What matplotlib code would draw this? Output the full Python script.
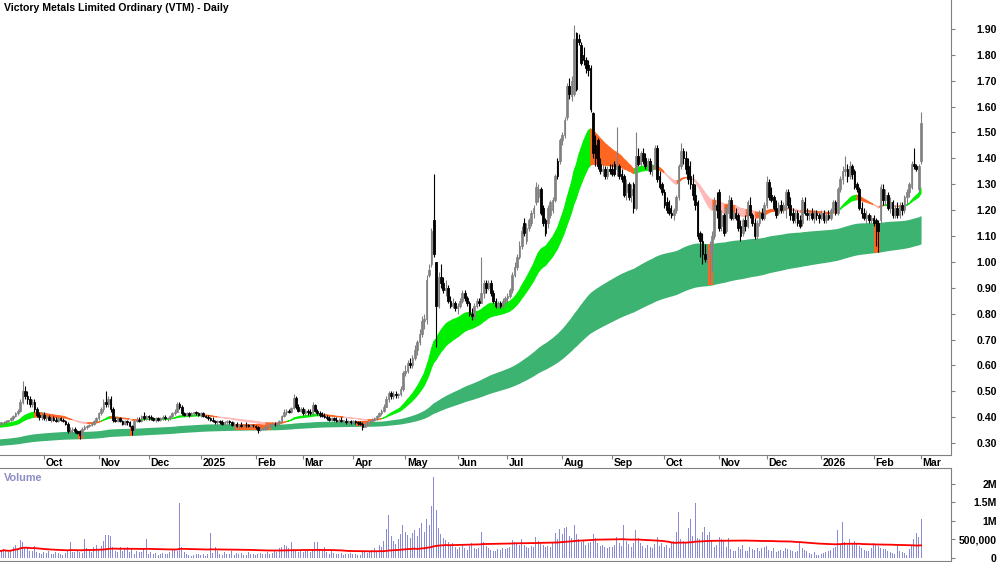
import numpy as np
import pandas as pd
import matplotlib
matplotlib.use("Agg")
import matplotlib.pyplot as plt
from matplotlib.transforms import blended_transform_factory

plt.rcParams["font.family"] = ["Liberation Sans", "DejaVu Sans"]

# daily candles (open, high, low, close)
sep24 = [(.37,.38,.365,.375),(.375,.38,.37,.38),(.38,.385,.375,.38),(.38,.39,.375,.385),(.385,.39,.38,.39),
         (.39,.40,.385,.395),(.395,.41,.39,.405),(.405,.42,.40,.415),(.415,.43,.41,.425),(.425,.47,.42,.46),
         (.46,.54,.45,.50),(.50,.52,.47,.48),(.48,.50,.45,.47),(.47,.48,.44,.45),(.45,.47,.44,.46),
         (.46,.47,.42,.43),(.43,.44,.40,.41),(.41,.42,.39,.40),(.40,.42,.39,.41)]
oct24 = [(.41,.42,.39,.395),(.395,.41,.385,.40),(.40,.41,.39,.39),(.39,.40,.38,.395),(.395,.405,.385,.39),
         (.39,.40,.38,.385),(.385,.40,.38,.395),(.395,.40,.385,.39),(.39,.395,.38,.385),(.385,.39,.37,.375),
         (.375,.38,.34,.345),(.345,.36,.34,.35),(.35,.36,.34,.355),(.355,.36,.34,.345),(.345,.35,.335,.34),
         (.345,.35,.315,.33),(.33,.36,.33,.355),(.355,.37,.35,.36),(.36,.37,.355,.365),(.365,.375,.36,.37),
         (.37,.38,.365,.375),(.375,.39,.37,.385),(.385,.40,.38,.395)]
nov24 = [(.395,.42,.39,.415),(.415,.44,.41,.43),(.43,.47,.42,.46),(.46,.50,.44,.45),(.45,.48,.44,.47),
         (.47,.48,.42,.43),(.43,.44,.38,.39),(.39,.40,.38,.385),(.385,.40,.38,.395),(.395,.40,.38,.385),
         (.385,.39,.37,.375),(.375,.39,.37,.385),(.385,.39,.37,.38),(.38,.385,.36,.365),(.365,.37,.33,.35),
         (.35,.39,.35,.385),(.385,.40,.38,.39),(.39,.40,.38,.385),(.385,.41,.38,.405),(.405,.42,.39,.395),
         (.395,.41,.39,.405)]
dec24 = [(.405,.41,.39,.40),(.40,.41,.39,.395),(.395,.40,.385,.39),(.39,.40,.38,.395),(.395,.40,.385,.39),
         (.39,.40,.385,.395),(.395,.41,.39,.40),(.40,.41,.39,.395),(.395,.40,.385,.395),(.395,.41,.39,.405),
         (.405,.42,.40,.415),(.415,.43,.41,.42),(.42,.46,.42,.45),(.45,.46,.43,.44),(.44,.445,.41,.415),
         (.415,.42,.405,.41),(.41,.42,.405,.415),(.415,.42,.40,.41),(.41,.42,.405,.415),(.415,.42,.41,.42),
         (.42,.425,.41,.415),(.415,.42,.405,.41)]
jan25 = [(.41,.42,.40,.415),(.415,.42,.40,.405),(.405,.41,.395,.40),(.40,.41,.39,.395),(.395,.40,.385,.39),
         (.39,.40,.38,.385),(.385,.39,.375,.38),(.38,.39,.37,.385),(.385,.39,.375,.38),(.38,.39,.37,.375),
         (.375,.385,.37,.38),(.38,.39,.375,.385),(.385,.39,.375,.38),(.38,.385,.365,.37),(.37,.38,.365,.375),
         (.375,.38,.36,.365),(.365,.375,.355,.37),(.37,.38,.36,.365),(.365,.375,.36,.37),(.37,.38,.36,.368),
         (.368,.375,.36,.365),(.365,.375,.36,.37),(.37,.375,.36,.368)]
feb25 = [(.365,.37,.355,.36),(.36,.365,.34,.35),(.35,.36,.345,.355),(.355,.36,.35,.355),(.355,.365,.35,.36),
         (.36,.37,.355,.365),(.365,.375,.36,.372),(.372,.38,.365,.375),(.375,.38,.365,.372),(.372,.38,.365,.378),
         (.378,.39,.37,.385),(.385,.41,.38,.405),(.405,.43,.40,.42),(.42,.43,.41,.425),(.425,.43,.415,.42),
         (.42,.44,.415,.435),(.435,.49,.43,.475),(.475,.48,.43,.44),(.44,.45,.42,.425),(.425,.44,.42,.43)]
mar25 = [(.43,.44,.41,.415),(.415,.43,.41,.425),(.425,.43,.41,.42),(.42,.43,.41,.415),(.415,.46,.41,.445),
         (.445,.45,.42,.425),(.425,.43,.41,.415),(.415,.425,.40,.41),(.41,.42,.40,.405),(.405,.415,.395,.40),
         (.40,.41,.39,.395),(.395,.405,.385,.39),(.39,.40,.385,.395),(.395,.40,.385,.39),(.39,.40,.38,.385),
         (.385,.395,.38,.39),(.39,.40,.38,.385),(.385,.39,.38,.385),(.385,.395,.375,.38),(.38,.39,.375,.385),
         (.385,.39,.375,.38)]
apr25 = [(.38,.39,.375,.385),(.385,.39,.375,.38),(.38,.385,.37,.378),(.378,.385,.37,.375),(.375,.38,.35,.36),
         (.36,.375,.36,.372),(.372,.385,.365,.38),(.38,.39,.375,.385),(.385,.395,.38,.39),(.39,.40,.385,.395),
         (.395,.41,.39,.405),(.405,.42,.40,.415),(.415,.43,.41,.425),(.425,.45,.42,.44),(.44,.48,.44,.47),
         (.47,.50,.46,.495),(.495,.50,.47,.48),(.48,.50,.47,.49),(.49,.50,.475,.485),(.485,.495,.475,.49),
         (.49,.52,.48,.51),(.51,.58,.50,.57)]
may25 = [(.57,.60,.56,.58),(.58,.62,.57,.61),(.61,.63,.59,.60),(.60,.64,.59,.63),(.63,.68,.62,.66),
         (.66,.70,.64,.69),(.69,.74,.68,.72),(.72,.79,.71,.77),(.77,.80,.74,.78),(.78,.95,.76,.93),
         (.95,.99,.94,.97),(.99,1.13,.98,1.12),(1.16,1.34,1.02,1.03),(1.00,1.00,.67,.83),(.83,.96,.82,.94),
         (.94,.99,.90,.92),(.92,.94,.88,.89),(.89,.93,.87,.90),(.90,.91,.84,.85),(.85,.87,.82,.83),
         (.83,.86,.82,.84),(.84,.85,.81,.82)]
jun25 = [(.82,.84,.80,.83),(.83,.86,.82,.85),(.85,.89,.84,.88),(.88,.89,.85,.86),(.86,.87,.83,.84),
         (.84,.85,.79,.80),(.80,.82,.775,.79),(.79,.84,.78,.83),(.83,.86,.82,.85),(.85,.86,.83,.84),
         (.84,1.02,.84,.88),(.88,.93,.86,.92),(.92,.93,.88,.90),(.90,.93,.89,.92),(.92,.93,.87,.88),
         (.88,.89,.84,.85),(.85,.86,.82,.83),(.83,.85,.82,.84),(.84,.85,.82,.83),(.83,.86,.82,.85),
         (.85,.87,.84,.86)]
jul25 = [(.86,.88,.84,.87),(.87,.90,.86,.89),(.89,.96,.88,.95),(.95,1.00,.94,.98),(.98,1.03,.97,1.02),
         (1.02,1.08,1.01,1.06),(1.06,1.14,1.05,1.12),(1.15,1.17,1.10,1.11),(1.08,1.15,1.07,1.13),(1.13,1.17,1.12,1.16),
         (1.15,1.20,1.14,1.19),(1.19,1.22,1.17,1.21),(1.23,1.31,1.22,1.29),(1.25,1.30,1.23,1.28),(1.28,1.29,1.18,1.19),
         (1.21,1.22,1.14,1.15),(1.16,1.17,1.10,1.11),(1.15,1.22,1.13,1.21),(1.18,1.24,1.17,1.23),(1.20,1.25,1.19,1.24),
         (1.24,1.34,1.23,1.33),(1.39,1.40,1.32,1.33),(1.39,1.48,1.38,1.47)]
aug25 = [(1.47,1.50,1.45,1.49),(1.49,1.56,1.48,1.55),(1.56,1.69,1.55,1.68),(1.68,1.71,1.63,1.65),(1.64,1.72,1.62,1.70),
         (1.65,1.915,1.64,1.86),(1.885,1.89,1.66,1.67),(1.86,1.88,1.84,1.85),(1.84,1.85,1.76,1.77),(1.80,1.83,1.76,1.78),
         (1.78,1.79,1.73,1.75),(1.76,1.78,1.72,1.74),(1.75,1.76,1.58,1.59),(1.575,1.58,1.40,1.42),(1.45,1.49,1.37,1.40),
         (1.47,1.48,1.36,1.37),(1.38,1.40,1.34,1.35),(1.35,1.38,1.33,1.36),(1.36,1.37,1.32,1.33),(1.33,1.37,1.32,1.36),
         (1.36,1.38,1.34,1.35)]
sep25 = [(1.36,1.38,1.33,1.34),(1.38,1.39,1.33,1.34),(1.36,1.52,1.33,1.37),(1.37,1.38,1.32,1.33),(1.34,1.36,1.31,1.32),
         (1.33,1.34,1.25,1.26),(1.27,1.32,1.24,1.30),(1.30,1.31,1.24,1.25),(1.26,1.30,1.23,1.28),(1.30,1.31,1.19,1.21),
         (1.21,1.50,1.20,1.41),(1.41,1.44,1.37,1.38),(1.38,1.43,1.37,1.42),(1.42,1.44,1.38,1.39),(1.40,1.42,1.36,1.37),
         (1.37,1.40,1.35,1.39),(1.39,1.40,1.34,1.35),(1.36,1.38,1.33,1.37),(1.37,1.45,1.36,1.44),(1.44,1.45,1.31,1.32),
         (1.33,1.35,1.28,1.29),(1.30,1.31,1.26,1.27)]
oct25 = [(1.27,1.28,1.21,1.22),(1.23,1.25,1.19,1.20),(1.21,1.24,1.18,1.19),(1.19,1.22,1.17,1.18),(1.18,1.21,1.16,1.20),
         (1.20,1.26,1.19,1.25),(1.25,1.38,1.24,1.37),(1.37,1.46,1.36,1.43),(1.43,1.44,1.38,1.40),(1.40,1.43,1.34,1.36),
         (1.37,1.40,1.30,1.32),(1.33,1.39,1.28,1.30),(1.30,1.34,1.24,1.26),(1.26,1.30,1.20,1.22),(1.23,1.24,1.09,1.10),
         (1.11,1.12,1.02,1.08),(1.08,1.11,0.99,1.03),(1.03,1.07,1.00,1.01),(1.01,1.06,0.99,1.02),(1.02,1.08,0.92,1.04),
         (1.04,1.12,0.96,1.10),(1.10,1.25,1.09,1.22),(1.22,1.27,1.17,1.20)]
nov25 = [(1.27,1.28,1.12,1.13),(1.14,1.20,1.12,1.18),(1.18,1.19,1.10,1.11),(1.12,1.22,1.11,1.21),(1.19,1.26,1.17,1.24),
         (1.24,1.25,1.16,1.17),(1.17,1.20,1.16,1.19),(1.19,1.21,1.16,1.17),(1.18,1.19,1.12,1.13),(1.14,1.16,1.08,1.10),
         (1.11,1.17,1.10,1.16),(1.16,1.18,1.12,1.14),(1.14,1.24,1.13,1.23),(1.22,1.25,1.17,1.18),(1.18,1.19,1.14,1.15),
         (1.15,1.17,1.09,1.10),(1.10,1.16,1.08,1.15),(1.15,1.20,1.14,1.19),(1.19,1.21,1.16,1.17),(1.17,1.23,1.16,1.22)]
dec25 = [(1.22,1.33,1.21,1.31),(1.31,1.32,1.24,1.25),(1.26,1.29,1.23,1.24),(1.25,1.26,1.20,1.21),(1.21,1.24,1.17,1.18),
         (1.19,1.23,1.18,1.22),(1.22,1.24,1.19,1.20),(1.20,1.23,1.19,1.22),(1.20,1.28,1.17,1.27),(1.27,1.28,1.21,1.22),
         (1.22,1.25,1.16,1.18),(1.19,1.21,1.15,1.16),(1.17,1.20,1.15,1.19),(1.19,1.20,1.14,1.15),(1.16,1.18,1.13,1.14),
         (1.15,1.25,1.14,1.24),(1.23,1.25,1.18,1.19),(1.19,1.21,1.16,1.18),(1.18,1.20,1.16,1.19),(1.19,1.21,1.16,1.17),
         (1.17,1.20,1.15,1.19),(1.19,1.20,1.16,1.18),(1.18,1.19,1.15,1.17)]
jan26 = [(1.17,1.20,1.16,1.19),(1.19,1.20,1.15,1.16),(1.16,1.19,1.15,1.18),(1.18,1.20,1.16,1.17),(1.17,1.21,1.16,1.20),
         (1.20,1.24,1.19,1.23),(1.23,1.24,1.18,1.19),(1.19,1.29,1.18,1.28),(1.28,1.33,1.27,1.32),(1.32,1.37,1.30,1.35),
         (1.35,1.41,1.33,1.36),(1.36,1.38,1.31,1.33),(1.33,1.39,1.32,1.37),(1.37,1.38,1.32,1.34),(1.35,1.36,1.28,1.29),
         (1.30,1.31,1.27,1.28),(1.28,1.29,1.20,1.21),(1.21,1.23,1.17,1.19),(1.19,1.21,1.16,1.17),(1.17,1.20,1.15,1.18),
         (1.18,1.19,1.15,1.16),(1.16,1.18,1.15,1.17)]
feb26 = [(1.17,1.18,1.14,1.15),(1.16,1.17,1.06,1.15),(1.15,1.16,1.04,1.12),(1.16,1.30,1.15,1.29),(1.28,1.30,1.22,1.24),
         (1.24,1.28,1.22,1.26),(1.26,1.27,1.20,1.21),(1.21,1.25,1.19,1.23),(1.23,1.24,1.17,1.18),(1.18,1.22,1.17,1.21),
         (1.21,1.23,1.17,1.18),(1.18,1.23,1.17,1.22),(1.22,1.23,1.18,1.20),(1.20,1.26,1.19,1.25),(1.25,1.28,1.22,1.27),
         (1.27,1.31,1.25,1.30),(1.29,1.39,1.28,1.38),(1.38,1.44,1.36,1.37),(1.37,1.38,1.35,1.36),(1.28,1.38,1.27,1.37)]
mar26 = [(1.39,1.58,1.38,1.535)]

# daily volume, thousands of shares
volume_k = [
    200,180,250,180,160,220,300,350,280,490,420,300,260,200,180,320,160,140,120,
    150,130,180,120,100,160,140,110,90,130,200,430,150,170,200,160,140,510,280,220,150,300,350,
    250,320,450,610,630,590,300,200,150,310,180,250,300,160,280,120,200,170,150,260,510,
    120,150,100,130,90,110,140,100,120,170,220,250,180,1490,300,150,110,90,60,80,120,100,
    80,120,60,100,680,130,300,200,110,90,150,120,100,180,90,140,110,130,80,70,150,120,100,
    90,110,130,100,120,150,110,140,180,150,260,300,350,320,280,430,250,200,150,180,
    160,200,180,150,250,430,420,220,180,300,150,120,180,140,110,100,130,90,120,100,140,
    100,120,90,80,200,150,130,180,220,260,200,350,300,450,780,1160,600,450,380,520,650,900,
    700,620,550,680,750,600,820,950,700,1050,900,1400,2200,1300,800,650,550,480,420,350,400,300,
    250,300,380,260,220,330,400,260,230,280,700,420,330,260,220,200,180,230,210,260,240,
    260,300,480,420,380,360,520,340,300,260,320,290,560,450,380,340,290,320,300,400,680,500,780,
    650,800,850,600,550,900,650,500,430,480,360,400,430,650,540,400,330,360,290,280,300,
    300,350,560,400,330,880,450,380,300,400,760,550,400,330,280,350,300,260,380,560,330,400,
    300,350,280,400,450,700,1240,500,450,420,800,1050,600,1480,550,500,700,850,620,700,450,300,350,
    560,520,480,300,550,250,200,180,300,250,350,200,180,300,250,220,280,200,260,300,
    320,220,180,260,160,200,220,180,260,240,220,180,160,200,430,260,220,180,130,110,160,90,80,
    110,130,160,180,220,260,300,750,380,970,420,350,520,400,450,380,320,270,220,180,200,280,
    400,350,320,270,230,250,180,160,140,110,380,180,160,140,90,230,330,500,680,560,
    1050,
]

months = [sep24, oct24, nov24, dec24, jan25, feb25, mar25, apr25, may25, jun25,
          jul25, aug25, sep25, oct25, nov25, dec25, jan26, feb26, mar26]
ohlc = np.array([row for m in months for row in m])
o, h, l, c = ohlc.T
h = np.maximum(h, np.maximum(o, c))
l = np.minimum(l, np.minimum(o, c))
vol = np.array(volume_k) * 1000.0
dates = pd.bdate_range("2024-09-04", "2026-03-02")
assert len(dates) == len(c) == len(vol)
x = np.arange(len(c))


def ema(values, span, seed):
    s = pd.Series(np.r_[seed, values]).ewm(span=span, adjust=False).mean()
    return s.values[1:]


fast = ema(c, 25, 0.375)
slow = ema(c, 40, 0.36)
long_top = ema(c, 155, 0.315)
long_bot = ema(c, 250, 0.29)
vol_ma = pd.Series(vol).rolling(100, min_periods=1).mean()

GREEN = "#00EE00"
ORANGE = "#FF6622"
PINK = "#FFB8B8"
DKGREEN = "#3CB371"
GREY = "#808080"

fig = plt.figure(figsize=(10, 5.62), dpi=100)
ax = fig.add_axes([0, 1 - 455 / 562, 0.951, 455 / 562])
axv = fig.add_axes([0, 1 - 561 / 562, 0.951, 93 / 562])

# long-term band, orange where a low reaches past its middle
ax.fill_between(x, long_bot, long_top, color=DKGREEN, lw=0)
for i in np.where(l < (long_top + long_bot) / 2)[0]:
    ax.fill_between([i - 0.6, i + 0.6], long_bot[i], long_top[i], color=ORANGE, lw=0)

# short-term band: green rising & above, pink falling & below, orange mixed
rising = np.r_[True, np.diff(fast) >= -0.0015 * fast[1:]]
above = fast >= slow
green = rising & above
pink = (~rising) & (~above)
orange = ~(green | pink)
for mask, col in [(green, GREEN), (orange, ORANGE), (pink, PINK)]:
    m = mask | np.r_[mask[1:], False]
    ax.fill_between(x, fast, slow, where=m, color=col, edgecolor=col, lw=0.7)

# candles
up = c >= o
ax.vlines(x[up], l[up], h[up], color=GREY, lw=0.8)
ax.vlines(x[~up], l[~up], h[~up], color="black", lw=0.8)
body = np.maximum(np.abs(c - o), 0.003)
ax.bar(x[up], body[up], bottom=np.minimum(o, c)[up], width=0.7,
       color="white", edgecolor=GREY, lw=0.6)
ax.bar(x[~up], body[~up], bottom=np.minimum(o, c)[~up], width=0.7,
       color="black", edgecolor="black", lw=0.6)

ax.set_xlim(0.5, 400.6)
ax.set_ylim(0.2537, 2.012)
ax.yaxis.tick_right()
ax.set_yticks(np.arange(0.30, 1.901, 0.10))
ax.set_yticklabels([f"{v:.2f}" for v in np.arange(0.30, 1.901, 0.10)])

# month ticks
month_start = np.r_[True, dates.month[1:] != dates.month[:-1]]
starts = x[month_start][1:]
labels = [str(d.year) if d.month == 1 else d.strftime("%b") for d in dates[month_start][1:]]
ax.set_xticks(starts)
ax.set_xticklabels([])
tr = blended_transform_factory(ax.transData, ax.transAxes)
for xi, lab in zip(starts, labels):
    ax.text(xi + 0.7, -0.006, lab, transform=tr, ha="left", va="top",
            fontsize=7.6, fontweight="bold")

# volume
axv.bar(x, vol, width=0.42, color="#8A8AD6", lw=0)
axv.plot(x, vol_ma, color="red", lw=1.3)
axv.set_xlim(0.5, 400.6)
axv.set_ylim(-81000, 2432000)
axv.yaxis.tick_right()
axv.set_yticks([0, 500000, 1000000, 1500000, 2000000])
axv.set_yticklabels(["0", "500,000", "1M", "1.5M", "2M"])
axv.set_xticks([])

for a in (ax, axv):
    for s in ("left", "top"):
        a.spines[s].set_visible(False)
    a.spines["right"].set_color(GREY)
    a.spines["bottom"].set_color(GREY)
    a.tick_params(axis="y", direction="out", length=3, color=GREY, pad=30)
    for t in a.get_yticklabels():
        t.set_fontweight("bold")
        t.set_fontsize(7.6)
        t.set_horizontalalignment("right")
ax.tick_params(axis="x", direction="out", length=3, color=GREY)
axv.spines["top"].set_visible(True)
axv.spines["top"].set_color(GREY)

fig.text(0.004, 1 - 8 / 562, "Victory Metals Limited Ordinary (VTM) - Daily",
         fontsize=7.6, fontweight="bold", va="center", ha="left")
fig.text(0.004, 1 - 478 / 562, "Volume", fontsize=7.8, fontweight="bold",
         color="#8C8CC8", va="center", ha="left")

fig.savefig("out.png", dpi=100)
